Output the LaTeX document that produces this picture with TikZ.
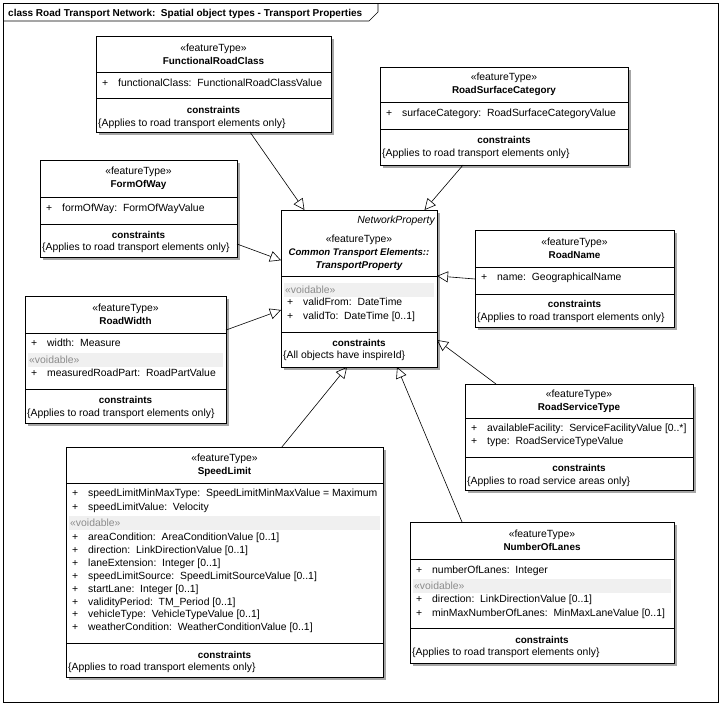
\documentclass[tikz,border=0pt]{standalone}
\usepackage{fontspec}
\setmainfont{Liberation Sans}
\usetikzlibrary{positioning,arrows.meta,calc,shadows}

\newcommand{\plus}{\makebox[16pt][l]{+}}
\newcommand{\cname}[1]{{\fontsize{9.9}{13}\selectfont\bfseries #1}}

\begin{document}
\begin{tikzpicture}[x=1pt,y=-1pt, every node/.style={font=\fontsize{10.4}{13}\selectfont, inner sep=0pt},
    classbox/.style={draw, fill=white, line width=0.7pt, anchor=north west, inner sep=0pt, outer sep=0pt,
      drop shadow={shadow xshift=3pt, shadow yshift=-3pt, opacity=1, fill=black!35}},
    head/.style={align=center},
    attr/.style={anchor=base west},
    cons/.style={anchor=base, font=\fontsize{9.9}{13}\selectfont\bfseries},
    constext/.style={anchor=base west},
    voidband/.style={fill=black!6},
    voidtxt/.style={anchor=base west, text=black!45},
    gen/.style={-{Triangle[open,length=11pt,width=11pt]}, line width=0.6pt}]

    % frame and title tab
    \useasboundingbox (0,0) rectangle (722,705);
    \draw[line width=0.6pt] (3,3) rectangle (718,702);
    \draw[line width=0.6pt] (3,21) -- (369,21) -- (378,12) -- (378,3);
    \node[anchor=base west, font=\fontsize{10}{13}\selectfont\bfseries] (title) at (8,16)
      {class Road Transport Network:\ \ Spatial object types - Transport Properties};

    % FunctionalRoadClass
    \node[classbox, minimum width=235pt, minimum height=96pt] (frc) at (96,36) {};
    \node[head] (frc-h) at (213.5,54.5) {«featureType»\\\cname{FunctionalRoadClass}};
    \draw (frc.west |- 0,72) -- (frc.east |- 0,72);
    \node[attr] (frc-a1) at (102,86.5) {\plus functionalClass:\ \ FunctionalRoadClassValue};
    \draw (frc.west |- 0,98) -- (frc.east |- 0,98);
    \node[cons] (frc-c) at (213.5,113.5) {constraints};
    \node[constext] (frc-ct) at (98,126.5) {\{Applies to road transport elements only\}};

    % RoadSurfaceCategory
    \node[classbox, minimum width=248pt, minimum height=98pt] (rsc) at (380,67) {};
    \node[head] (rsc-h) at (504,84.5) {«featureType»\\\cname{RoadSurfaceCategory}};
    \draw (rsc.west |- 0,102) -- (rsc.east |- 0,102);
    \node[attr] (rsc-a1) at (386,116.5) {\plus surfaceCategory:\ \ RoadSurfaceCategoryValue};
    \draw (rsc.west |- 0,129) -- (rsc.east |- 0,129);
    \node[cons] (rsc-c) at (504,143.5) {constraints};
    \node[constext] (rsc-ct) at (382,156.5) {\{Applies to road transport elements only\}};

    % FormOfWay
    \node[classbox, minimum width=197pt, minimum height=97pt] (fow) at (40,160) {};
    \node[head] (fow-h) at (138.5,178.5) {«featureType»\\\cname{FormOfWay}};
    \draw (fow.west |- 0,197) -- (fow.east |- 0,197);
    \node[attr] (fow-a1) at (46,211.5) {\plus formOfWay:\ \ FormOfWayValue};
    \draw (fow.west |- 0,224) -- (fow.east |- 0,224);
    \node[cons] (fow-c) at (138.5,238.5) {constraints};
    \node[constext] (fow-ct) at (42,250.5) {\{Applies to road transport elements only\}};

    % TransportProperty
    \node[classbox, minimum width=156pt, minimum height=157pt] (tp) at (281,210) {};
    \node[anchor=base east, font=\fontsize{10.4}{13}\selectfont\itshape] (tp-p) at (435,223.5) {NetworkProperty};
    \node[head] (tp-h) at (359,252.5) {«featureType»\\{\fontsize{9.6}{13}\selectfont\bfseries\itshape Common Transport Elements::}\\\cname{\itshape TransportProperty}};
    \draw (tp.west |- 0,276) -- (tp.east |- 0,276);
    \fill[voidband] (284,283) rectangle (434,297);
    \node[voidtxt] (tp-v) at (285,293.5) {«voidable»};
    \node[attr] (tp-a1) at (287,305.5) {\plus validFrom:\ \ DateTime};
    \node[attr] (tp-a2) at (287,319.5) {\plus validTo:\ \ DateTime [0..1]};
    \draw (tp.west |- 0,332) -- (tp.east |- 0,332);
    \node[cons] (tp-c) at (359,346.5) {constraints};
    \node[constext] (tp-ct) at (283,358.5) {\{All objects have inspireId\}};

    % RoadName
    \node[classbox, minimum width=199pt, minimum height=97pt] (rn) at (475,230) {};
    \node[head] (rn-h) at (574.5,248.5) {«featureType»\\\cname{RoadName}};
    \draw (rn.west |- 0,267) -- (rn.east |- 0,267);
    \node[attr] (rn-a1) at (481,280.5) {\plus name:\ \ GeographicalName};
    \draw (rn.west |- 0,294) -- (rn.east |- 0,294);
    \node[cons] (rn-c) at (574.5,307.5) {constraints};
    \node[constext] (rn-ct) at (477,320.5) {\{Applies to road transport elements only\}};

    % RoadWidth
    \node[classbox, minimum width=201pt, minimum height=127pt] (rw) at (25,296) {};
    \node[head] (rw-h) at (125.5,314.5) {«featureType»\\\cname{RoadWidth}};
    \draw (rw.west |- 0,333) -- (rw.east |- 0,333);
    \node[attr] (rw-a1) at (31,346.5) {\plus width:\ \ Measure};
    \fill[voidband] (28,353) rectangle (223,367);
    \node[voidtxt] (rw-v) at (29,363.5) {«voidable»};
    \node[attr] (rw-a2) at (31,376.5) {\plus measuredRoadPart:\ \ RoadPartValue};
    \draw (rw.west |- 0,389) -- (rw.east |- 0,389);
    \node[cons] (rw-c) at (125.5,403.5) {constraints};
    \node[constext] (rw-ct) at (27,416.5) {\{Applies to road transport elements only\}};

    % RoadServiceType
    \node[classbox, minimum width=228pt, minimum height=106pt] (rst) at (465,384) {};
    \node[head] (rst-h) at (579,401.5) {«featureType»\\\cname{RoadServiceType}};
    \draw (rst.west |- 0,418) -- (rst.east |- 0,418);
    \node[attr] (rst-a1) at (471,431.5) {\plus availableFacility:\ \ ServiceFacilityValue [0..*]};
    \node[attr] (rst-a2) at (471,444.5) {\plus type:\ \ RoadServiceTypeValue};
    \draw (rst.west |- 0,457) -- (rst.east |- 0,457);
    \node[cons] (rst-c) at (579,471.5) {constraints};
    \node[constext] (rst-ct) at (467,484.5) {\{Applies to road service areas only\}};

    % SpeedLimit
    \node[classbox, minimum width=317pt, minimum height=230pt] (sl) at (66,447) {};
    \node[head] (sl-h) at (224.5,465.5) {«featureType»\\\cname{SpeedLimit}};
    \draw (sl.west |- 0,483) -- (sl.east |- 0,483);
    \node[attr] (sl-a1) at (72,496.5) {\plus speedLimitMinMaxType:\ \ SpeedLimitMinMaxValue = Maximum};
    \node[attr] (sl-a2) at (72,510.5) {\plus speedLimitValue:\ \ Velocity};
    \fill[voidband] (69,516) rectangle (380,530);
    \node[voidtxt] (sl-v) at (70,526.5) {«voidable»};
    \node[attr] (sl-a3) at (72,540.5) {\plus areaCondition:\ \ AreaConditionValue [0..1]};
    \node[attr] (sl-a4) at (72,553.4) {\plus direction:\ \ LinkDirectionValue [0..1]};
    \node[attr] (sl-a5) at (72,566.3) {\plus laneExtension:\ \ Integer [0..1]};
    \node[attr] (sl-a6) at (72,579.2) {\plus speedLimitSource:\ \ SpeedLimitSourceValue [0..1]};
    \node[attr] (sl-a7) at (72,592.1) {\plus startLane:\ \ Integer [0..1]};
    \node[attr] (sl-a8) at (72,605) {\plus validityPeriod:\ \ TM\_Period [0..1]};
    \node[attr] (sl-a9) at (72,617.9) {\plus vehicleType:\ \ VehicleTypeValue [0..1]};
    \node[attr] (sl-a10) at (72,630.8) {\plus weatherCondition:\ \ WeatherConditionValue [0..1]};
    \draw (sl.west |- 0,643) -- (sl.east |- 0,643);
    \node[cons] (sl-c) at (224.5,658.5) {constraints};
    \node[constext] (sl-ct) at (68,670.5) {\{Applies to road transport elements only\}};

    % NumberOfLanes
    \node[classbox, minimum width=264pt, minimum height=141pt] (nol) at (410,522) {};
    \node[head] (nol-h) at (542,540.5) {«featureType»\\\cname{NumberOfLanes}};
    \draw (nol.west |- 0,559) -- (nol.east |- 0,559);
    \node[attr] (nol-a1) at (416,573.5) {\plus numberOfLanes:\ \ Integer};
    \fill[voidband] (413,579) rectangle (671,593);
    \node[voidtxt] (nol-v) at (414,589.5) {«voidable»};
    \node[attr] (nol-a2) at (416,602.5) {\plus direction:\ \ LinkDirectionValue [0..1]};
    \node[attr] (nol-a3) at (416,616.5) {\plus minMaxNumberOfLanes:\ \ MinMaxLaneValue [0..1]};
    \draw (nol.west |- 0,628) -- (nol.east |- 0,628);
    \node[cons] (nol-c) at (542,643.5) {constraints};
    \node[constext] (nol-ct) at (412,655.5) {\{Applies to road transport elements only\}};

    % generalisations to TransportProperty
    \draw[gen] ($(frc.south west)!0.655!(frc.south east)$) -- ($(tp.north west)!0.15!(tp.north east)$);
    \draw[gen] ($(rsc.south west)!0.335!(rsc.south east)$) -- ($(tp.north west)!0.92!(tp.north east)$);
    \draw[gen] ($(fow.north east)!0.866!(fow.south east)$) -- ($(tp.north west)!0.32!(tp.south west)$);
    \draw[gen] ($(rn.north west)!0.505!(rn.south west)$) -- ($(tp.north east)!0.42!(tp.south east)$);
    \draw[gen] ($(rw.north east)!0.268!(rw.south east)$) -- ($(tp.north west)!0.637!(tp.south west)$);
    \draw[gen] ($(rst.north west)!0.136!(rst.north east)$) -- ($(tp.north east)!0.828!(tp.south east)$);
    \draw[gen] ($(sl.north west)!0.681!(sl.north east)$) -- ($(tp.south west)!0.423!(tp.south east)$);
    \draw[gen] ($(nol.north west)!0.197!(nol.north east)$) -- ($(tp.south west)!0.744!(tp.south east)$);
\end{tikzpicture}
\end{document}
